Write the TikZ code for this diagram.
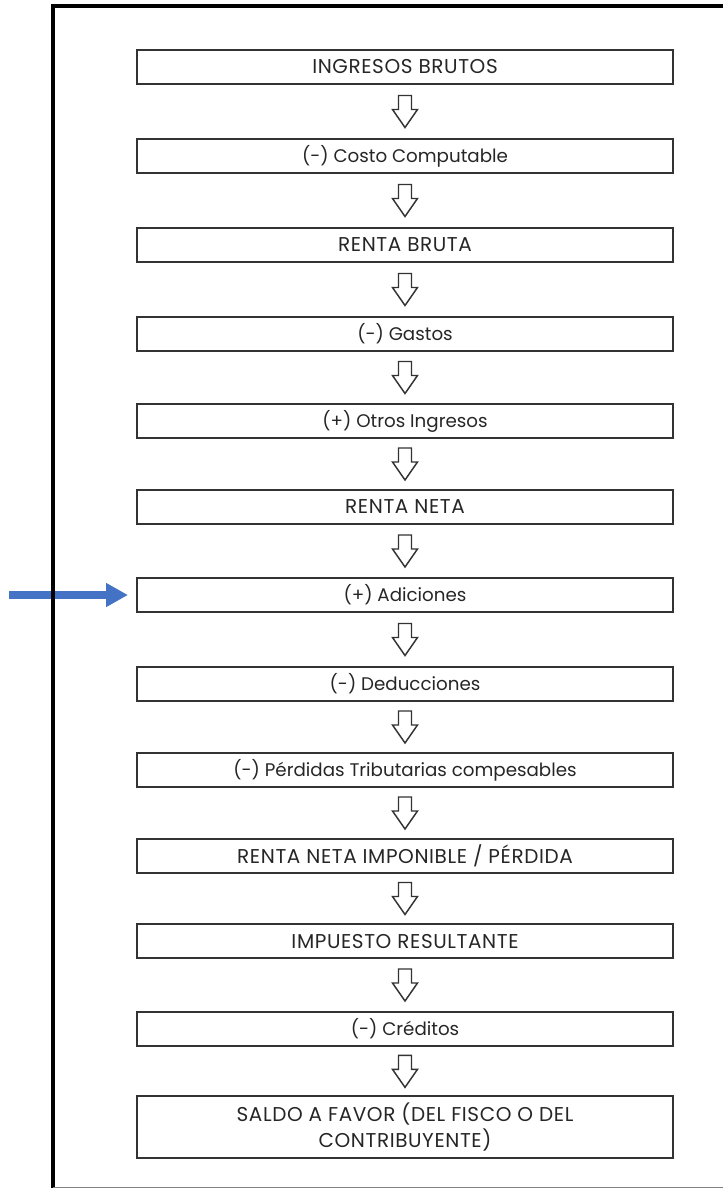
\documentclass[tikz,border=0pt]{standalone}
\usepackage{fontspec}
\setmainfont{Poppins}
\usetikzlibrary{arrows.meta,calc,backgrounds}

\definecolor{boxline}{HTML}{333333}
\definecolor{boxtext}{HTML}{262626}
\definecolor{pointer}{HTML}{4472C4}

\tikzset{
  stage/.style={draw=boxline, line width=1.5pt, minimum width=402pt,
    minimum height=26pt, inner sep=0pt, text=boxtext, align=center,
    font=\fontsize{13.7}{17}\selectfont},
  caps/.style={stage,
    font=\fontsize{15}{19}\selectfont\addfontfeature{LetterSpace=3}},
  hollow/.pic={
    \draw[boxline, line width=1.1pt, line join=miter, fill=white]
      (-6.5,-16) -- (-6.5,-2) -- (-12.5,-2) -- (0,16) -- (12.5,-2)
      -- (6.5,-2) -- (6.5,-16) -- cycle;
  }
}

\begin{document}
\begin{tikzpicture}[x=0.75pt, y=-0.75pt]
  \useasboundingbox (0,0) rectangle (723,1188);

  % frame
  \draw[line width=3pt] (53,1188) -- (53,6.5) -- (723,6.5);
  \draw[gray, line width=0.75pt] (53,1187.5) -- (723,1187.5);

  % steps
  \node[caps] (b1) at (405,67) {INGRESOS BRUTOS};
  \node[stage] (b2) at (405,156) {(-) Costo Computable};
  \node[caps] (b3) at (405,245) {RENTA BRUTA};
  \node[stage] (b4) at (405,334) {(-) Gastos};
  \node[stage] (b5) at (405,421) {(+) Otros Ingresos};
  \node[caps] (b6) at (405,507) {RENTA NETA};
  \node[stage] (b7) at (405,595) {(+) Adiciones};
  \node[stage] (b8) at (405,684) {(-) Deducciones};
  \node[stage] (b9) at (405,770) {(-) Pérdidas Tributarias compesables};
  \node[caps] (b10) at (405,856) {RENTA NETA IMPONIBLE / PÉRDIDA};
  \node[caps] (b11) at (405,941) {IMPUESTO RESULTANTE};
  \node[stage] (b12) at (405,1029) {(-) Créditos};
  \node[caps, minimum height=46pt] (b13) at (405,1127)
    {SALDO A FAVOR (DEL FISCO O DEL\\CONTRIBUYENTE)};

  % hollow arrows
  \pic at ($(b1.south)!.5!(b2.north)$) {hollow};
  \pic at ($(b2.south)!.5!(b3.north)$) {hollow};
  \pic at ($(b3.south)!.5!(b4.north)$) {hollow};
  \pic at ($(b4.south)!.5!(b5.north)$) {hollow};
  \pic at ($(b5.south)!.5!(b6.north)$) {hollow};
  \pic at ($(b6.south)!.5!(b7.north)$) {hollow};
  \pic at ($(b7.south)!.5!(b8.north)$) {hollow};
  \pic at ($(b8.south)!.5!(b9.north)$) {hollow};
  \pic at ($(b9.south)!.5!(b10.north)$) {hollow};
  \pic at ($(b10.south)!.5!(b11.north)$) {hollow};
  \pic at ($(b11.south)!.5!(b12.north)$) {hollow};
  \pic at ($(b12.south)!.5!(b13.north)$) {hollow};

  % blue pointer, under the frame
  \begin{scope}[on background layer]
    \coordinate (tail) at (9,595);
    \draw[pointer, line width=6pt, -{Triangle[length=16.5pt, width=17pt]}]
      (tail) -- ([xshift=-6pt]b7.west);
  \end{scope}
\end{tikzpicture}
\end{document}
